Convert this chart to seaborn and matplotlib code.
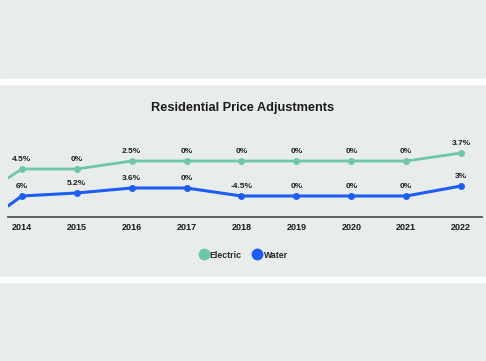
import matplotlib
matplotlib.use("Agg")
import matplotlib.pyplot as plt
from matplotlib.patches import Rectangle
from matplotlib.lines import Line2D
import pandas as pd
import seaborn as sns

# dados
anos = [2014, 2015, 2016, 2017, 2018, 2019, 2020, 2021, 2022]
rotulos_anos = ["2014", "2015", "2016", "2017", "2018", "2019", "2020", "2021", "2022"]

# altura de cada linha (escala do desenho, não é o percentual)
nivel_eletrico = [4.8, 4.8, 5.6, 5.6, 5.6, 5.6, 5.6, 5.6, 6.4]
nivel_agua = [2.1, 2.4, 2.9, 2.9, 2.1, 2.1, 2.1, 2.1, 3.1]
# trecho que entra pela borda esquerda
ano_inicio = 2013.75
inicio_eletrico = 3.9
inicio_agua = 1.1

rotulos_eletrico = ["4.5%", "0%", "2.5%", "0%", "0%", "0%", "0%", "0%", "3.7%"]
rotulos_agua = ["6%", "5.2%", "3.6%", "0%", "-4.5%", "0%", "0%", "0%", "3%"]

cor_eletrico = "#6fc7a9"
cor_agua = "#1d5cf5"
cor_fundo = "#e8edeb"

sns.set_theme(style="white")
plt.rcParams['font.family'] = ['Liberation Sans', 'DejaVu Sans']

fig = plt.figure(figsize=(4.86, 3.61), dpi=100, facecolor=cor_fundo)

# faixas brancas de separação
fig.patches.append(Rectangle((0, 1 - 84 / 361), 1, 5 / 361, transform=fig.transFigure,
                             color="white", zorder=0))
fig.patches.append(Rectangle((0, 1 - 282 / 361), 1, 5 / 361, transform=fig.transFigure,
                             color="white", zorder=0))

ax = fig.add_axes([8 / 486, 1 - 217 / 361, 474 / 486, 80 / 361])
ax.set_facecolor("none")

df_e = pd.DataFrame({"ano": anos, "nivel": nivel_eletrico})
df_a = pd.DataFrame({"ano": anos, "nivel": nivel_agua})
df_e0 = pd.DataFrame({"ano": [ano_inicio, anos[0]], "nivel": [inicio_eletrico, nivel_eletrico[0]]})
df_a0 = pd.DataFrame({"ano": [ano_inicio, anos[0]], "nivel": [inicio_agua, nivel_agua[0]]})

sns.lineplot(data=df_e0, x="ano", y="nivel", ax=ax, color=cor_eletrico, linewidth=2.0)
sns.lineplot(data=df_a0, x="ano", y="nivel", ax=ax, color=cor_agua, linewidth=2.2)
sns.lineplot(data=df_e, x="ano", y="nivel", ax=ax, color=cor_eletrico, linewidth=2.0,
             marker="o", markersize=5, markeredgewidth=0)
sns.lineplot(data=df_a, x="ano", y="nivel", ax=ax, color=cor_agua, linewidth=2.2,
             marker="o", markersize=5, markeredgewidth=0)

for x, y, t in zip(anos, nivel_eletrico, rotulos_eletrico):
    ax.annotate(t, (x, y), xytext=(0, 7), textcoords="offset points", ha="center",
                va="center", fontsize=6, fontweight="bold", color="#1a1a1a")
for x, y, t in zip(anos, nivel_agua, rotulos_agua):
    ax.annotate(t, (x, y), xytext=(0, 6.5), textcoords="offset points", ha="center",
                va="center", fontsize=6, fontweight="bold", color="#1a1a1a")

ax.set_xlim(ano_inicio, 2022.38)
ax.set_ylim(0, 8)
ax.set_xticks(anos)
ax.set_xticklabels(rotulos_anos, fontsize=6.5, fontweight="bold", color="#1a1a1a")
ax.set_yticks([])
ax.set_xlabel("")
ax.set_ylabel("")
for lado in ["top", "left", "right"]:
    ax.spines[lado].set_visible(False)
ax.spines["bottom"].set_color("#555555")
ax.spines["bottom"].set_linewidth(1.3)
ax.tick_params(axis="x", direction="in", length=4.5, width=0.9, color="#333333", pad=4)

fig.text(0.5, 1 - 108 / 361, "Residential Price Adjustments", ha="center", va="center",
         fontsize=9.2, fontweight="bold", color="#1a1a1a")

itens = [
    Line2D([], [], linestyle="none", marker="o", markersize=7.5, color=cor_eletrico, label="Electric"),
    Line2D([], [], linestyle="none", marker="o", markersize=7.5, color=cor_agua, label="Water"),
]
fig.legend(handles=itens, loc="center", bbox_to_anchor=(0.5, 1 - 255 / 361), ncol=2,
           frameon=False, prop={"size": 6.3, "weight": "bold"}, handletextpad=0.1,
           columnspacing=1.2, handlelength=1.2)

fig.savefig("out.png", dpi=100, facecolor=cor_fundo)
